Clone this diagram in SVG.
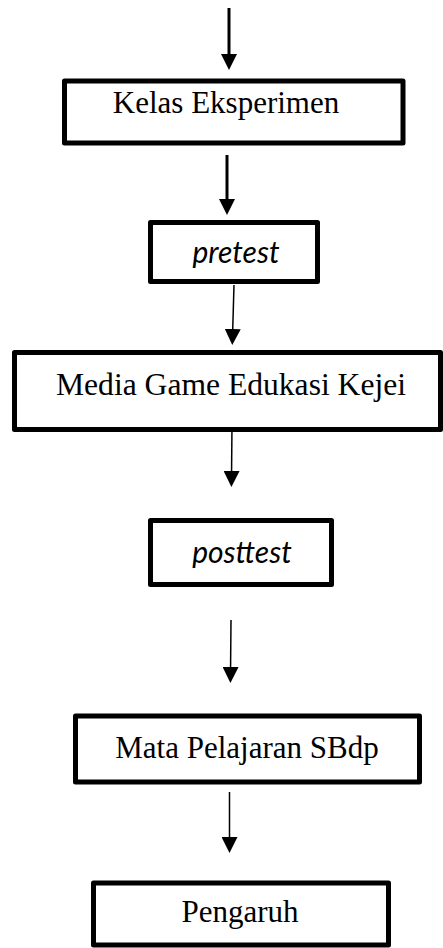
<svg xmlns="http://www.w3.org/2000/svg" width="443" height="948" viewBox="0 0 443 948">
<style>
.box{fill:#fff;stroke:#000;stroke-width:5;stroke-linejoin:round}
.serif{font-family:"Liberation Serif","Times New Roman",serif;font-size:31px;fill:#000}
.ital{font-family:Lato,"Open Sans",sans-serif;font-style:italic;font-size:30px;fill:#000}
.thick{stroke:#000;stroke-width:3;fill:none}
.thin{stroke:#000;stroke-width:1.5;fill:none}
</style>
<defs>
<marker id="ah" viewBox="0 0 16 16" refX="8" refY="8" markerWidth="16" markerHeight="16" markerUnits="userSpaceOnUse" orient="auto">
<path d="M0,0 L16,8 L0,16 z" fill="#000"/>
</marker>
</defs>
<g id="connectors">
<line class="thick" x1="229" y1="8" x2="229" y2="62" marker-end="url(#ah)"/>
<line class="thick" x1="227" y1="155" x2="227" y2="207" marker-end="url(#ah)"/>
<line class="thin" x1="234" y1="285" x2="232.5" y2="337" marker-end="url(#ah)"/>
<line class="thin" x1="232" y1="424" x2="231.5" y2="479" marker-end="url(#ah)"/>
<line class="thin" x1="231" y1="620" x2="230.5" y2="675" marker-end="url(#ah)"/>
<line class="thin" x1="229.5" y1="792" x2="229.5" y2="845" marker-end="url(#ah)"/>
</g>
<g id="n1">
<rect class="box" x="64.5" y="81" width="338.5" height="62" stroke-width="4.5"/>
<text class="serif" x="226" y="113" text-anchor="middle">Kelas Eksperimen</text>
</g>
<g id="n2">
<rect class="box" x="150.5" y="222.5" width="167" height="59"/>
<text class="ital" x="236" y="263" text-anchor="middle">pretest</text>
</g>
<g id="n3">
<rect class="box" x="14.5" y="352.5" width="426" height="77"/>
<text class="serif" x="231" y="395" text-anchor="middle" style="font-size:31.6px">Media Game Edukasi Kejei</text>
</g>
<g id="n4">
<rect class="box" x="150.5" y="520.5" width="181" height="64"/>
<text class="ital" x="242" y="563" text-anchor="middle">posttest</text>
</g>
<g id="n5">
<rect class="box" x="75.5" y="716" width="344" height="66"/>
<text class="serif" x="247" y="758" text-anchor="middle">Mata Pelajaran SBdp</text>
</g>
<g id="n6">
<rect class="box" x="93.5" y="883" width="295" height="62"/>
<text class="serif" x="240" y="922" text-anchor="middle">Pengaruh</text>
</g>
</svg>
